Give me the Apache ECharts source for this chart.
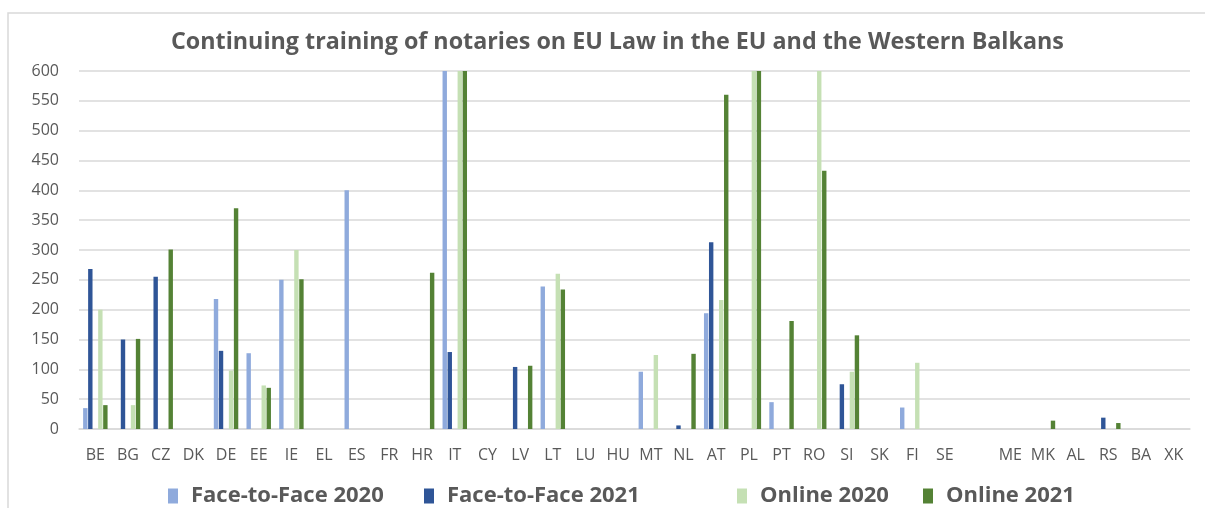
<!DOCTYPE html>
<html>
<head>
<meta charset="utf-8">
<script src="https://cdn.jsdelivr.net/npm/echarts@6/dist/echarts.min.js"></script>
<style>
html,body{margin:0;padding:0;background:#fff;}
#chart{width:1205px;height:508px;}
</style>
</head>
<body>
<div id="chart"></div>
<script>
const categories = ['BE','BG','CZ','DK','DE','EE','IE','EL','ES','FR','HR','IT','CY','LV','LT','LU','HU','MT','NL','AT','PL','PT','RO','SI','SK','FI','SE','','ME','MK','AL','RS','BA','XK'];
const faceToFace2020 = [35,null,null,null,218,127,250,null,400,null,null,600,null,null,239,null,null,96,null,194,null,45,null,null,null,36,null,null,null,null,null,null,null,null];
const faceToFace2021 = [268,150,255,null,131,null,null,null,null,null,null,129,null,104,null,null,null,null,6,313,null,null,null,75,null,null,null,null,null,null,null,19,null,null];
const online2020 = [200,40,null,null,98,73,300,null,null,null,null,600,null,null,260,null,null,124,null,216,600,null,600,96,null,111,null,null,null,null,null,null,null,null];
const online2021 = [40,151,301,null,370,69,251,null,null,null,262,600,null,106,234,null,null,null,126,560,600,181,433,157,null,null,null,null,null,14,null,10,null,null];
const yTicks = [0,50,100,150,200,250,300,350,400,450,500,550,600];

const FONT = '"Open Sans", "Liberation Sans", sans-serif';
const chart = echarts.init(document.getElementById('chart'), null, {renderer:'canvas'});

function bar(name, data, color) {
  return {
    name: name, type: 'bar', data: data,
    barWidth: 4.4, barGap: '14%',
    itemStyle: {color: color},
    emphasis: {disabled: true},
    clip: true
  };
}
const legendText = {fontFamily: FONT, fontSize: 22, fontWeight: 'bold', color: '#595959', padding: [0, 0, 0, 8]};
function legend(name, left) {
  return {data: [name], left: left, top: 480, itemWidth: 10, itemHeight: 15, icon: 'rect', textStyle: legendText, selectedMode: false};
}

chart.setOption({
  animation: false,
  backgroundColor: '#fff',
  title: {
    text: 'Continuing training of notaries on EU Law in the EU and the Western Balkans',
    left: 166, top: 26,
    textStyle: {fontFamily: FONT, fontSize: 23.3, fontWeight: 'bold', color: '#595959'}
  },
  graphic: [{
    type: 'polyline', silent: true,
    shape: {points: [[8, 508], [8, 13], [1205, 13]]},
    style: {stroke: '#d9d9d9', lineWidth: 1.5, fill: null}
  }],
  legend: [
    legend('Face-to-Face 2020', 163),
    legend('Face-to-Face 2021', 419),
    legend('Online 2020', 732),
    legend('Online 2021', 918)
  ],
  grid: {left: 79, right: 15, top: 71, bottom: 79},
  xAxis: {
    type: 'category', data: categories,
    axisLine: {lineStyle: {color: '#d9d9d9', width: 1.5}},
    axisTick: {show: false},
    axisLabel: {interval: 0, margin: 18, fontFamily: FONT, fontSize: 16, color: '#595959'}
  },
  yAxis: {
    type: 'value', min: 0, max: 600, interval: 50,
    axisLine: {show: false}, axisTick: {show: false},
    splitLine: {lineStyle: {color: '#d9d9d9', width: 1.5}},
    axisLabel: {margin: 20, fontFamily: FONT, fontSize: 16, color: '#595959',
      formatter: v => yTicks.includes(v) ? String(v) : ''}
  },
  series: [
    bar('Face-to-Face 2020', faceToFace2020, '#8faadc'),
    bar('Face-to-Face 2021', faceToFace2021, '#2f5597'),
    bar(' ', [], 'rgba(0,0,0,0)'),
    bar('Online 2020', online2020, '#c5e0b4'),
    bar('Online 2021', online2021, '#548235')
  ]
});
</script>
</body>
</html>
